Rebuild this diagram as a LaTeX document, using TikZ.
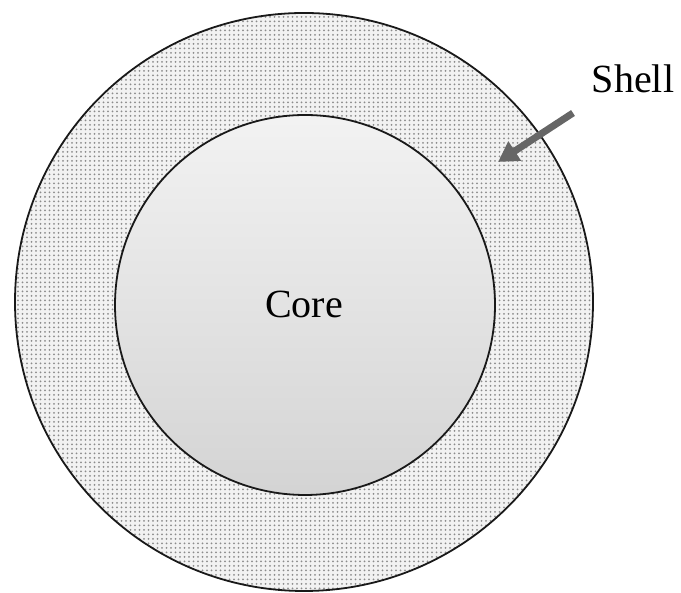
\documentclass[tikz,border=0pt]{standalone}
\usepackage{fontspec}
\setmainfont{Liberation Serif}
\usetikzlibrary{patterns.meta,arrows.meta}
\tikzset{
  ring/.style={draw=black!90, line width=1.8pt},
  lbl/.style={font=\fontsize{40}{44}\selectfont, inner sep=0pt, anchor=base},
  pointer/.style={draw=black!60, line width=7pt, -{Triangle[length=20pt,width=22pt]}}
}
\begin{document}
\begin{tikzpicture}[x=1pt,y=1pt]
\useasboundingbox (0,0) rectangle (681,593);
% shell
\fill[black!5] (304,291) circle[radius=289];
\fill[pattern={Dots[distance=4.5pt,radius=1pt]}, pattern color=black!45] (304,291) circle[radius=289];
\draw[ring] (304,291) circle[radius=289];
% core
\shade[top color=black!5, bottom color=black!17] (305,288) circle[radius=190];
\draw[ring] (305,288) circle[radius=190];
\node[lbl] (core) at (304,275) {Core};
\node[lbl] (shell) at (633,500) {Shell};
\coordinate (tail) at (573,480);
\coordinate (tip) at (498,431);
\draw[pointer] (tail) -- (tip);
\end{tikzpicture}
\end{document}
